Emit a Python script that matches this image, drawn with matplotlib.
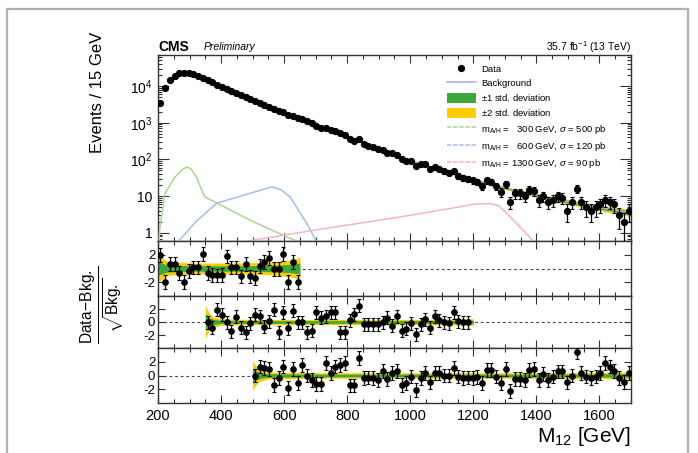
import numpy as np
import matplotlib
matplotlib.use('Agg')
import matplotlib.pyplot as plt
from matplotlib.patches import Patch, Rectangle
from matplotlib.lines import Line2D
from matplotlib.ticker import MultipleLocator, FixedLocator, FuncFormatter, LogLocator, NullFormatter

plt.rcParams['font.family'] = ['Liberation Sans', 'DejaVu Sans']
plt.rcParams['mathtext.fontset'] = 'custom'
plt.rcParams['mathtext.rm'] = 'Liberation Sans'
plt.rcParams['mathtext.it'] = 'Liberation Sans:italic'
plt.rcParams['mathtext.bf'] = 'Liberation Sans:bold'
plt.rcParams['axes.unicode_minus'] = False

# ---------------- data ----------------
bin_low = 200
bin_width = 15

data_counts = [3350, 9000, 14500, 19000, 22000, 23300, 23000, 21500, 19300, 16300,
               14200, 12600, 11000, 9500, 8300, 7200, 6400, 5600, 4900, 4300,
               3800, 3475, 3060, 2752, 2331, 2131, 1977, 1634, 1569, 1329,
               1283, 1100, 966, 833, 740, 737, 623, 577, 521, 470,
               358, 317, 350, 266, 239, 212, 187, 185, 152, 146,
               136, 100, 93, 93, 66, 74, 73, 56, 61, 56,
               48, 44, 47, 36, 32, 29, 27, 25, 19, 27,
               25, 19, 13, 21, 7, 12, 12, 10, 15, 14,
               8, 10, 7, 8, 10, 9, 4, 7, 16, 7,
               5, 4, 5, 6, 8, 7, 6, 3, 2, 4]

# background fit (fit range 500-1700 GeV, bins 20..99)
bkg_fit = [3800, 3400, 3000, 2700, 2400, 2150, 1920, 1710, 1530, 1370,
           1229, 1100, 985, 870, 775, 690, 614, 547, 487, 433,
           386, 344, 306, 273, 244, 218, 195, 176, 158, 142,
           128, 115, 104, 94, 85, 77.5, 70.5, 64, 58, 53,
           48.3, 44, 40.2, 37, 34, 31.2, 28.7, 26.5, 24.5, 22.6,
           20.9, 19.3, 17.9, 16.6, 15.5, 14.4, 13.4, 12.5, 11.7, 10.9,
           10.2, 9.6, 9.0, 8.5, 8.0, 7.55, 7.1, 6.7, 6.35, 6.0,
           5.7, 5.4, 5.1, 4.85, 4.6, 4.4, 4.2, 4.0, 3.8, 3.65]
bkg_first_bin = 20
main_band_1sd = 0.2   # in units of sqrt(bkg)
main_band_2sd = 0.4

# signal templates
sig300_x = [203, 206, 222, 254, 275, 291, 305, 322, 343, 349, 420, 492, 608, 650]
sig300_y = [0.6, 1.45, 11.8, 33, 52, 62, 55, 33, 11.8, 9.5, 4.6, 2.2, 0.78, 0.55]
sig600_x = [263, 320, 386, 492, 561, 590, 619, 672, 703]
sig600_y = [0.57, 2.0, 6.4, 12, 17.8, 15, 9.5, 1.8, 0.57]
sig1300_x = [470, 700, 967, 1126, 1200, 1250, 1280, 1306, 1348, 1390]
sig1300_y = [0.57, 1.2, 2.7, 4.6, 6.0, 6.3, 5.5, 3.4, 1.45, 0.6]

# residuals (Data-Bkg)/sqrt(Bkg) for the three fit ranges
res1_first_bin = 0
res1 = [2.0, -1.95, 0.7, 0.7, -0.6, -1.95, -0.35, 0.15, 0.15, 2.1,
        -0.6, -0.9, -1.0, -0.9, 1.75, 0.15, 0.15, -1.15, 0.7, -1.15,
        -1.4, 0.4, 0.95, 1.5, -0.1, -0.1, 2.15, -1.95, 0.95, -1.95]
res2_first_bin = 10
res2 = [0.0, -0.85, 1.9, 1.15, 0.0, -1.45, 0.8, -0.85, -1.6, -0.2,
        1.15, 0.9, -0.7, 0.15, 1.9, -1.6, 1.5, -0.95, 1.75, 0.0,
        0.0, -1.6, -1.35, 1.5, 0.65, 0.9, 1.5, 1.5, -1.6, -1.6,
        0.3, 1.2, 2.5, -0.35, -0.35, -0.35, -0.35, 0.0, 0.65, -0.6,
        0.9, -1.35, -1.0, -0.2, -1.85, -0.35, 0.4, -0.85, 0.9, 0.3,
        0.0, -0.2, 1.5, 0.15, 0.0, 0.0]
res3_first_bin = 20
res3 = [0.0, 1.3, 1.1, 1.0, -1.4, -0.4, 1.3, -1.85, 1.0, -1.1,
        1.55, 0.0, -0.6, -1.25, -1.25, 1.8, 0.35, 1.3, 1.55, 1.8,
        -1.45, -1.45, 2.5, -0.4, -0.3, -0.4, -0.6, 0.7, -0.5, 0.35,
        0.7, -1.4, -1.1, -0.15, -2.1, -0.4, 0.35, -1.0, 0.35, 0.35,
        0.0, 0.0, 1.1, -0.15, -0.4, -0.3, -0.4, -0.2, -1.1, 0.85,
        0.85, -0.15, -1.1, 1.0, -2.25, -0.5, -0.5, -0.6, 0.85, 1.0,
        -0.6, 0.2, -0.6, -0.15, 0.6, 0.6, -1.0, 0.0, 3.4, 0.35,
        -0.15, -0.4, -0.15, 0.35, 1.8, 1.3, 0.7, -0.4, -0.9, 0.35]
res_err = 1.0

# uncertainty bands in the ratio panels (knots)
band1_x = [200, 230, 300, 450, 550, 620, 650]
band1_2sd = [2.0, 1.0, 0.8, 0.8, 0.9, 1.2, 1.6]
band1_1sd = [1.0, 0.5, 0.4, 0.4, 0.45, 0.6, 0.8]
band2_x = [350, 360, 375, 400, 500, 1000, 1200]
band2_2sd = [2.6, 1.5, 0.8, 0.5, 0.4, 0.4, 0.5]
band2_1sd = [1.3, 0.75, 0.4, 0.25, 0.2, 0.2, 0.25]
band3_x = [500, 510, 525, 550, 700, 1500, 1700]
band3_2sd = [2.2, 1.4, 0.8, 0.5, 0.4, 0.4, 0.5]
band3_1sd = [1.1, 0.7, 0.4, 0.25, 0.2, 0.2, 0.25]

x_ticks = [200, 400, 600, 800, 1000, 1200, 1400, 1600]
ratio_ticks = [-2, 0, 2]

# ---------------- style ----------------
c_green = '#3aa83a'
c_yellow = '#ffcc00'
c_bkg = '#aab4ec'
c_s300 = '#a9d88c'
c_s600 = '#a3c0ea'
c_s1300 = '#f6b3c8'

W, H = 698, 453
fig = plt.figure(figsize=(W / 100, H / 100), dpi=100)

# outer grey frame
fig.patches.append(Rectangle((7 / W, -0.1), (688 - 7) / W, 1 - 9 / H + 0.1,
                             transform=fig.transFigure, fill=False,
                             edgecolor='#b0b0b0', lw=1.6))

L, R = 158, 631
def ax_rect(top, bottom):
    return [L / W, 1 - bottom / H, (R - L) / W, (bottom - top) / H]

ax = fig.add_axes(ax_rect(55, 241))
ar1 = fig.add_axes(ax_rect(241, 296))
ar2 = fig.add_axes(ax_rect(296, 348))
ar3 = fig.add_axes(ax_rect(348, 403))

centers = bin_low + bin_width * (np.arange(len(data_counts)) + 0.5)
data = np.array(data_counts, dtype=float)
bkg = np.array(bkg_fit)
bx = centers[bkg_first_bin:bkg_first_bin + len(bkg)]

# main panel
ax.fill_between(bx, bkg - main_band_2sd * np.sqrt(bkg), bkg + main_band_2sd * np.sqrt(bkg),
                color=c_yellow, lw=0, zorder=2)
ax.fill_between(bx, bkg - main_band_1sd * np.sqrt(bkg), bkg + main_band_1sd * np.sqrt(bkg),
                color=c_green, lw=0, zorder=2)
ax.plot(bx, bkg, color=c_bkg, lw=1.0, zorder=3)
ax.plot(sig300_x, sig300_y, color=c_s300, lw=1.1, zorder=3)
ax.plot(sig600_x, sig600_y, color=c_s600, lw=1.1, zorder=3)
ax.plot(sig1300_x, sig1300_y, color=c_s1300, lw=1.1, zorder=3)
ax.errorbar(centers, data, yerr=np.sqrt(data), fmt='o', color='k', ms=4.2,
            elinewidth=0.9, capsize=1.3, capthick=0.8, zorder=5)
ax.set_yscale('log')
ax.set_ylim(0.6, 7e4)

def log_fmt(v, pos):
    e = int(round(np.log10(v)))
    if e == 0:
        return '1'
    if e == 1:
        return '10'
    return r'$10^{%d}$' % e
ax.yaxis.set_major_locator(FixedLocator([1, 10, 100, 1000, 10000]))
ax.yaxis.set_major_formatter(FuncFormatter(log_fmt))
ax.yaxis.set_minor_locator(LogLocator(base=10, subs=np.arange(2, 10), numticks=20))
ax.yaxis.set_minor_formatter(NullFormatter())

# legend
handles = [
    Line2D([], [], marker='o', color='k', ls='none', ms=4.2),
    Line2D([], [], color=c_bkg, lw=1.2),
    Patch(facecolor=c_green, edgecolor='none'),
    Patch(facecolor=c_yellow, edgecolor='none'),
    Line2D([], [], color=c_s300, lw=1.1, ls=(0, (3, 1))),
    Line2D([], [], color=c_s600, lw=1.1, ls=(0, (3, 1))),
    Line2D([], [], color=c_s1300, lw=1.1, ls=(0, (3, 1))),
]
labels = ['Data', 'Background', r'$\pm$1 std. deviation', r'$\pm$2 std. deviation',
          r'm$_{\rm A/H}$ =   300 GeV, $\sigma$ = 500 pb',
          r'm$_{\rm A/H}$ =   600 GeV, $\sigma$ = 120 pb',
          r'm$_{\rm A/H}$ = 1300 GeV, $\sigma$ = 90 pb']
ax.legend(handles, labels, loc='upper left', bbox_to_anchor=(0.61, 0.955),
          frameon=False, fontsize=6.8, handlelength=3.1, handleheight=1.3,
          handletextpad=0.6, labelspacing=0.44, borderpad=0, borderaxespad=0)

# ratio panels
def ratio_panel(a, first, res, bxk, b2, b1):
    rx = centers[first:first + len(res)]
    a.axhline(0, color='#444444', lw=0.8, ls=(0, (2.5, 2.5)), zorder=1)
    a.fill_between(bxk, -np.array(b2), b2, color=c_yellow, lw=0, zorder=2)
    a.fill_between(bxk, -np.array(b1), b1, color=c_green, lw=0, zorder=2)
    a.errorbar(rx, res, yerr=res_err, fmt='o', color='k', ms=3.8,
               elinewidth=0.9, capsize=1.3, capthick=0.8, zorder=5)
    a.set_ylim(-4, 4)
    a.yaxis.set_major_locator(FixedLocator(ratio_ticks))
    a.yaxis.set_major_formatter(FuncFormatter(lambda v, p: '%d' % v))

ratio_panel(ar1, res1_first_bin, res1, band1_x, band1_2sd, band1_1sd)
ratio_panel(ar2, res2_first_bin, res2, band2_x, band2_2sd, band2_1sd)
ratio_panel(ar3, res3_first_bin, res3, band3_x, band3_2sd, band3_1sd)

for a in (ax, ar1, ar2, ar3):
    a.set_xlim(200, 1700)
    a.xaxis.set_major_locator(FixedLocator(x_ticks))
    a.xaxis.set_minor_locator(MultipleLocator(50))
    a.tick_params(which='both', direction='in', top=True, right=True,
                  color='#333333', width=0.8)
    a.tick_params(which='major', length=6)
    a.tick_params(which='minor', length=3)
    for s in a.spines.values():
        s.set_linewidth(1.0)
        s.set_color('#333333')
    if a is not ar3:
        a.tick_params(labelbottom=False)

ax.tick_params(axis='y', which='major', labelsize=10, length=8, pad=4)
for a in (ar1, ar2, ar3):
    a.tick_params(axis='y', which='major', labelsize=9.5, pad=2, length=5)
ar3.tick_params(axis='x', which='major', labelsize=10.5, pad=4)

# texts
fig.text(L / W, 1 - 47 / H, 'CMS', fontsize=10, fontweight='bold', ha='left', va='center')
fig.text(204 / W, 1 - 47.5 / H, 'Preliminary', fontsize=7.5, style='italic', ha='left', va='center')
fig.text(R / W, 1 - 47 / H, r'35.7 fb$^{-1}$ (13 TeV)', fontsize=7.5, ha='right', va='center')
fig.text(98 / W, 1 - 92 / H, 'Events / 15 GeV', fontsize=12, rotation=90, ha='center', va='center')
fig.text(103 / W, 1 - 305 / H, r'$\frac{\mathrm{Data\!-\!Bkg.}}{\sqrt{\mathrm{Bkg.}}}$',
         fontsize=16, rotation=90, ha='center', va='center')
fig.text(R / W, 1 - 437 / H, r'M$_{12}$ [GeV]', fontsize=15, ha='right', va='center')

fig.savefig('out.png', dpi=100)
